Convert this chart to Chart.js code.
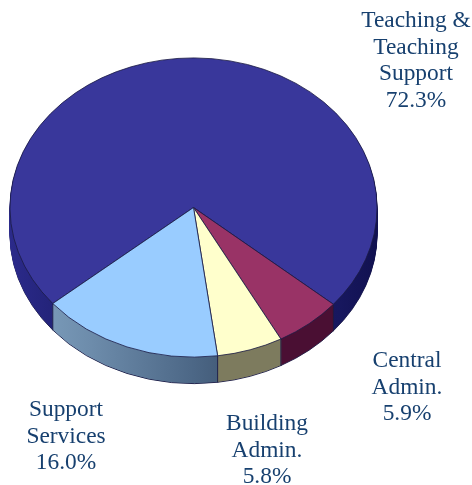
<!DOCTYPE html>
<html>
<head>
<meta charset="utf-8">
<style>html,body{margin:0;padding:0;background:#fff}canvas{display:block}</style>
<script src="https://cdn.jsdelivr.net/npm/chart.js@4/dist/chart.umd.min.js"></script>
</head>
<body>
<canvas id="budget" width="472" height="485"></canvas>
<script>
// Share of spending by function, percent
const categories = [
  ['Teaching &', 'Teaching', 'Support'],
  ['Central', 'Admin.'],
  ['Building', 'Admin.'],
  ['Support', 'Services']
];
const shares = [72.3, 5.9, 5.8, 16.0];

// Tilted-disc look of the pie
const startDegrees = 230.05;
const tilt = 0.815;
const depth = 26.5;
const topColors = ['#39379b', '#993366', '#ffffcc', '#99ccff'];
const edgeColor = '#1b1b45';
const wallStops = [
  [[0, '#2b2a8a'], [0.12, '#232379'], [0.9, '#17175e'], [1, '#111150']],
  [[0, '#4a0f33'], [1, '#4a0f33']],
  [[0, '#7d7b5e'], [1, '#7d7b5e']],
  [[0, '#83a5c3'], [0.22, '#6d8cab'], [0.5, '#4c6786'], [0.62, '#3f5672'], [1, '#3f5672']]
];

// Text block for each slice: centre x, first baseline, line step
const labelFont = '23.4px "Liberation Serif"';
const labelColor = '#17406f';
const lineStep = 26.5;
const labelAnchors = [[416, 27], [407, 367], [267, 430], [66, 416]];

function withOptions(arc, overrides, paint) {
  const saved = arc.options;
  arc.options = Object.assign(Object.create(saved), overrides);
  paint();
  arc.options = saved;
}

const tiltedPie = {
  id: 'tiltedPie',
  beforeDatasetsDraw(chart) {
    const ctx = chart.ctx;
    const arcs = chart.getDatasetMeta(0).data;
    const cx = arcs[0].x, cy = arcs[0].y, r = arcs[0].outerRadius;

    const project = (shift) => {
      ctx.translate(cx, cy + shift);
      ctx.scale(1, tilt);
      ctx.translate(-cx, -cy);
    };

    const walls = wallStops.map((stops) => {
      const g = ctx.createLinearGradient(cx - r, 0, cx + r, 0);
      stops.forEach(([at, color]) => g.addColorStop(at, color));
      return g;
    });

    // Extruded side wall, stacked from the bottom up
    for (let d = depth; d >= 1; d--) {
      arcs.forEach((arc, i) => {
        const outline = d === depth ? edgeColor : walls[i];
        withOptions(arc, { backgroundColor: walls[i], borderColor: outline, borderWidth: 1 }, () => {
          ctx.save();
          project(d);
          arc.draw(ctx);
          ctx.restore();
        });
      });
    }

    // Vertical seams where slices meet on the visible wall
    ctx.save();
    ctx.strokeStyle = edgeColor;
    ctx.lineWidth = 0.9;
    arcs.forEach((arc) => {
      const a = arc.startAngle;
      if (Math.sin(a) <= 0) return;
      const x = cx + r * Math.cos(a);
      const y = cy + r * tilt * Math.sin(a);
      ctx.beginPath();
      ctx.moveTo(x, y);
      ctx.lineTo(x, y + depth);
      ctx.stroke();
    });
    ctx.restore();

    // Top face
    arcs.forEach((arc) => {
      ctx.save();
      project(0);
      arc.draw(ctx);
      ctx.restore();
    });

    return false;
  },
  afterDraw(chart) {
    const ctx = chart.ctx;
    ctx.save();
    ctx.font = labelFont;
    ctx.fillStyle = labelColor;
    ctx.textAlign = 'center';
    ctx.textBaseline = 'alphabetic';
    categories.forEach((lines, i) => {
      const [x, y] = labelAnchors[i];
      const rows = lines.concat(shares[i].toFixed(1) + '%');
      rows.forEach((row, n) => ctx.fillText(row, x, y + n * lineStep));
    });
    ctx.restore();
  }
};

new Chart(document.getElementById('budget'), {
  type: 'pie',
  data: {
    labels: categories.map((c) => c.join(' ')),
    datasets: [{
      data: shares,
      backgroundColor: topColors,
      borderColor: edgeColor,
      borderWidth: 0.9
    }]
  },
  options: {
    responsive: false,
    animation: false,
    rotation: startDegrees,
    layout: { padding: { left: 9.5, right: 94.5, top: 23.5, bottom: 93.5 } },
    plugins: { legend: { display: false }, tooltip: { enabled: false } }
  },
  plugins: [tiltedPie]
});
</script>
</body>
</html>
